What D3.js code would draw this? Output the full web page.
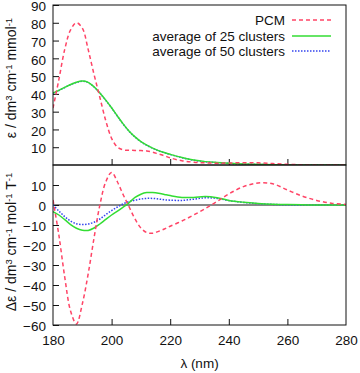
<!DOCTYPE html>
<html>
<head>
<meta charset="utf-8">
<script src="https://cdn.jsdelivr.net/npm/d3@7"></script>
<style>
body { margin: 0; background: #fff; }
text { font-family: "Liberation Sans", Arial, sans-serif; }
</style>
</head>
<body>
<div id="chart"></div>
<script>
// wavelength grid (nm)
var lambda = [180,182,184,186,188,190,192,194,196,198,200,202,204,206,208,210,212,214,216,218,220,224,228,232,236,240,245,250,255,260,265,270,275,280]

// absorption, epsilon
var absPCM  = [32,48,65,76,80,77,65,51,38,25,15,10,8.5,8.3,8.2,8.1,7.9,7.2,6.2,5.2,4.0,2.4,1.6,1.2,1.0,1.1,1.3,1.2,0.8,0.4,0.1,0,0,0]
var absAvg25 = [40.5,42,43.7,45.3,46.6,47.2,46.5,44,40.5,36.5,32.2,27.5,23,19,15.8,13.2,11.2,9.5,8.1,7,6,4.2,2.8,1.9,1.4,1.0,0.6,0.4,0.2,0.1,0,0,0,0]
var absAvg50 = [40.3,41.9,43.6,45.2,46.5,47.1,46.4,43.9,40.4,36.4,32.1,27.4,22.9,18.9,15.7,13.1,11.1,9.4,8,6.9,5.9,4.1,2.7,1.8,1.3,0.9,0.5,0.3,0.1,0,0,0,0,0]

// MCD, delta epsilon
var mcdPCM  = [2.5,-15,-36,-53,-59.5,-49.5,-34.5,-16.5,0,11.5,16.3,11.5,5,-1,-7,-11.5,-13.8,-14.1,-13.2,-12,-10.6,-8,-5,-1.8,1.8,5.5,9.2,11,10.6,7.5,4.5,2.3,0.9,0.3]
var mcdAvg25 = [-3.3,-5,-7.3,-9.8,-11.6,-12.6,-12.7,-11.5,-9.5,-7.2,-5,-3.1,-1,1.2,3.8,5.4,6.2,6.2,5.9,5.3,4.7,3.8,3.8,4.2,3.6,2.3,1.4,0.8,0.4,0.2,0.1,0,0,0]
var mcdAvg50 = [0,-3,-5.8,-8,-9.4,-9.8,-9.5,-8.6,-7,-4.8,-2.8,-1,0.6,1.7,2.4,3,3.3,3.3,3,2.6,2.4,2.3,2.9,3.6,3.3,2.2,1.3,0.7,0.3,0.1,0,0,0,0]

var seriesNames = ['PCM', 'average of 25 clusters', 'average of 50 clusters']
var xTicks = [180,200,220,240,260,280]
var absTicks = [10,20,30,40,50,60,70,80,90]
var mcdTicks = [-60,-50,-40,-30,-20,-10,0,10]

var width = 360, height = 373
var left = 53, right = 346
var topY = 5, midY = 165, botY = 325
var fontSize = 13.5

var colors = ['#ff4466', '#33dd33', '#3344ee']
var dashes = ['4,3', null, '1.5,1.5']

var svg = d3.select('#chart').append('svg')
    .attr('width', width)
    .attr('height', height)

var x = d3.scaleLinear().domain([180, 280]).range([left, right])
var yAbs = d3.scaleLinear().domain([0, 90]).range([midY, topY])
var yMcd = d3.scaleLinear().domain([-60, 20]).range([botY, midY])

function clip(id, y0, y1){
    svg.append('clipPath').attr('id', id)
        .append('rect')
        .attr('x', left).attr('y', y0)
        .attr('width', right - left).attr('height', y1 - y0)
}
clip('clipAbs', topY, midY)
clip('clipMcd', midY, botY)

function drawPanel(yScale, ticks, sets, clipId, y0, y1){
    // y axis with inward ticks
    var yAxis = d3.axisLeft(yScale).tickValues(ticks).tickSizeInner(-6).tickSizeOuter(0).tickPadding(7)
    var gy = svg.append('g').attr('transform', 'translate(' + left + ',0)').call(yAxis)
    gy.select('.domain').remove()
    gy.selectAll('text')
        .attr('font-size', fontSize)
        .attr('fill', '#111')
        .attr('dy', '0.42em')
        .style('font-family', '"Liberation Sans", Arial, sans-serif')
    gy.selectAll('line').attr('stroke', '#111')

    // x ticks at the bottom of the panel, pointing up
    var xAxis = d3.axisBottom(x).tickValues(xTicks.slice(1, -1)).tickSizeInner(-6).tickSizeOuter(0).tickFormat('')
    var gx = svg.append('g').attr('transform', 'translate(0,' + y1 + ')').call(xAxis)
    gx.select('.domain').remove()
    gx.selectAll('line').attr('stroke', '#111')

    var line = d3.line()
        .x(function(d){ return x(d[0]) })
        .y(function(d){ return yScale(d[1]) })
        .curve(d3.curveCatmullRom.alpha(0.5))

    var g = svg.append('g').attr('clip-path', 'url(#' + clipId + ')')
    // draw blue first, then green, red on top
    for(var i = sets.length - 1; i >= 0; i--){
        var pts = lambda.map(function(l, k){ return [l, sets[i][k]] })
        g.append('path')
            .attr('d', line(pts))
            .attr('fill', 'none')
            .attr('stroke', colors[i])
            .attr('stroke-width', 1.5)
            .attr('stroke-dasharray', dashes[i])
    }

    svg.append('rect')
        .attr('x', left).attr('y', y0)
        .attr('width', right - left).attr('height', y1 - y0)
        .attr('fill', 'none')
        .attr('stroke', '#111')
        .attr('stroke-width', 1)
}

drawPanel(yAbs, absTicks, [absPCM, absAvg25, absAvg50], 'clipAbs', topY, midY)

// zero line in the MCD panel
svg.append('line')
    .attr('x1', left).attr('x2', right)
    .attr('y1', yMcd(0)).attr('y2', yMcd(0))
    .attr('stroke', '#111')

drawPanel(yMcd, mcdTicks, [mcdPCM, mcdAvg25, mcdAvg50], 'clipMcd', midY, botY)

// x tick labels
var xLab = d3.axisBottom(x).tickValues(xTicks).tickSize(0).tickPadding(10)
var gxl = svg.append('g').attr('transform', 'translate(0,' + botY + ')').call(xLab)
gxl.select('.domain').remove()
gxl.selectAll('text').attr('font-size', fontSize).attr('fill', '#111').style('font-family', '"Liberation Sans", Arial, sans-serif')

svg.append('text')
    .attr('x', (left + right) / 2)
    .attr('y', 368)
    .attr('text-anchor', 'middle')
    .attr('font-size', fontSize)
    .attr('fill', '#111')
    .text('λ (nm)')

// rotated y labels with superscripts
function yLabel(cy, parts){
    var t = svg.append('text')
        .attr('transform', 'translate(16,' + cy + ') rotate(-90)')
        .attr('text-anchor', 'middle')
        .attr('font-size', 14)
        .attr('fill', '#111')
    parts.forEach(function(p){
        var s = t.append('tspan').text(p[0])
        if(p[1]) s.attr('font-size', 9.5).attr('baseline-shift', '45%')
    })
}
yLabel(78, [['ε / dm'], ['3', 1], [' cm'], ['-1', 1], [' mmol'], ['-1', 1]])
yLabel(242, [['Δε / dm'], ['3', 1], [' cm'], ['-1', 1], [' mol'], ['-1', 1], [' T'], ['-1', 1]])

// legend
var legendY = [20, 36, 51]
seriesNames.forEach(function(name, i){
    svg.append('text')
        .attr('x', 285)
        .attr('y', legendY[i])
        .attr('dy', '0.35em')
        .attr('text-anchor', 'end')
        .attr('font-size', fontSize)
        .attr('fill', '#111')
        .text(name)
    svg.append('line')
        .attr('x1', 292).attr('x2', 331)
        .attr('y1', legendY[i]).attr('y2', legendY[i])
        .attr('stroke', colors[i])
        .attr('stroke-width', 1.5)
        .attr('stroke-dasharray', dashes[i])
})
</script>
</body>
</html>
